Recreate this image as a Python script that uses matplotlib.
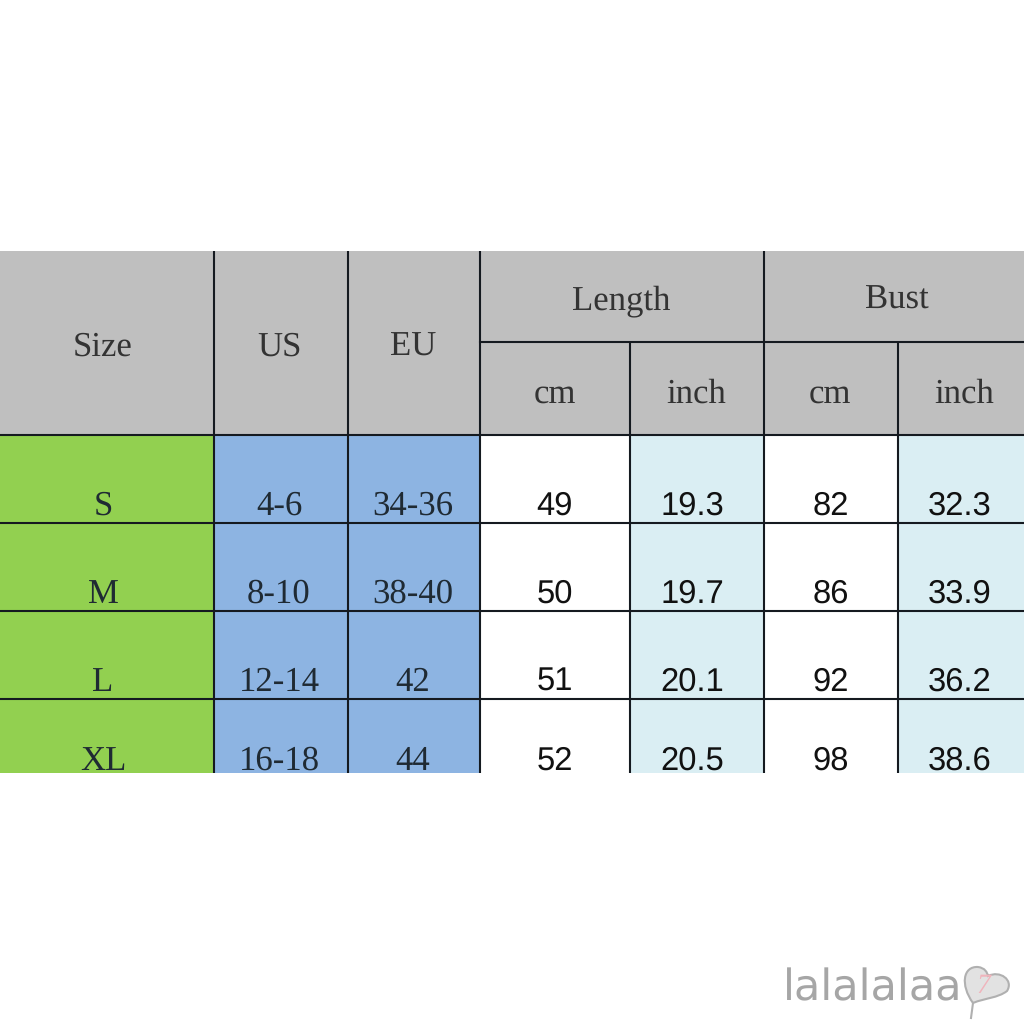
import matplotlib
matplotlib.use("Agg")
import matplotlib.pyplot as plt
from matplotlib.patches import Rectangle, PathPatch
from matplotlib.path import Path

plt.rcParams["text.hinting"] = "no_hinting"

# Table content
group_headers = ["Length", "Bust"]
side_headers = ["Size", "US", "EU"]
sub_headers = ["cm", "inch", "cm", "inch"]
sizes = ["S", "M", "L", "XL"]
us_sizes = ["4-6", "8-10", "12-14", "16-18"]
eu_sizes = ["34-36", "38-40", "42", "44"]
length_cm = ["49", "50", "51", "52"]
length_inch = ["19.3", "19.7", "20.1", "20.5"]
bust_cm = ["82", "86", "92", "98"]
bust_inch = ["32.3", "33.9", "36.2", "38.6"]

# Layout (pixels)
col_edges = [0, 214, 348, 480, 630, 764, 898, 1024]
header_top, header_mid, header_bottom = 251, 342, 435
row_edges = [435, 523, 611, 699, 773]
row_baselines = [515, 603, 691, 770]
side_centres = [103, 279, 413]
sub_centres = [555, 696, 830, 964]
group_centres = [621, 897]
sans_centres = [554, 692, 830, 959]

GREY, GREEN, BLUE, WHITE, PALE = "#bfbfbf", "#92d050", "#8db4e2", "#ffffff", "#daeef3"
LINE = "#151a20"
SERIF = "Liberation Serif"
SANS = "Liberation Sans"

fig = plt.figure(figsize=(10.24, 10.24), dpi=100, facecolor="white")
ax = fig.add_axes([0, 0, 1, 1])
ax.set_xlim(0, 1024)
ax.set_ylim(1024, 0)
ax.axis("off")

# Fills
ax.add_patch(Rectangle((0, header_top), 1024, header_bottom - header_top, fc=GREY, ec="none"))
body_colors = [GREEN, BLUE, BLUE, WHITE, PALE, WHITE, PALE]
for i, c in enumerate(body_colors):
    ax.add_patch(Rectangle((col_edges[i], row_edges[0]), col_edges[i + 1] - col_edges[i],
                           row_edges[-1] - row_edges[0], fc=c, ec="none"))

# Grid lines
lw = 1.5
for x in col_edges[1:-1]:
    top = header_mid if x in (col_edges[4], col_edges[6]) else header_top
    ax.plot([x, x], [top, row_edges[-1]], color=LINE, lw=lw, solid_capstyle="butt")
ax.plot([col_edges[3], 1024], [header_mid, header_mid], color=LINE, lw=lw)
for y in row_edges[:-1]:
    ax.plot([0, 1024], [y, y], color=LINE, lw=lw)

# Header text
hdr = dict(family=SERIF, fontsize=25, color="#333333", ha="center", va="baseline")
for x, t in zip(side_centres, side_headers):
    ax.text(x, 356, t, **hdr)
for x, t in zip(group_centres, group_headers):
    ax.text(x, 309, t, **hdr)
for x, t in zip(sub_centres, sub_headers):
    ax.text(x, 403, t, **hdr)

# Body text
for x, col in zip(side_centres, [sizes, us_sizes, eu_sizes]):
    for y, t in zip(row_baselines, col):
        ax.text(x, y, t, family=SERIF, fontsize=25, color="#1f2a33", ha="center", va="baseline")
for x, col in zip(sans_centres, [length_cm, length_inch, bust_cm, bust_inch]):
    for y, t in zip(row_baselines, col):
        ax.text(x + 0.5, y, t, family=SANS, fontsize=23.6, color="#111111",
                ha="center", va="baseline")

# Watermark
ax.text(783, 1000, "lalalalaa", family="DejaVu Sans", fontsize=31, color="#a6a6a6",
        ha="left", va="baseline")
heart = Path([(973, 1003), (960, 985), (963, 966), (978, 967),
              (985, 968), (987, 972), (988, 976),
              (1000, 970), (1014, 980), (1007, 991),
              (998, 998), (985, 998), (973, 1003)],
             [Path.MOVETO, Path.CURVE4, Path.CURVE4, Path.CURVE4, Path.CURVE4, Path.CURVE4,
              Path.CURVE4, Path.CURVE4, Path.CURVE4, Path.CURVE4, Path.CURVE4, Path.CURVE4,
              Path.CURVE4])
ax.add_patch(PathPatch(heart, fc="#e2e2e2", ec="#b0b0b0", lw=1.5))
ax.plot([973, 971], [1003, 1018], color="#b0b0b0", lw=1.5)
ax.text(983, 986, "7", family="Liberation Serif", style="italic", fontsize=20,
        color="#f0b4bc", ha="center", va="center")

fig.savefig("out.png", dpi=100)
